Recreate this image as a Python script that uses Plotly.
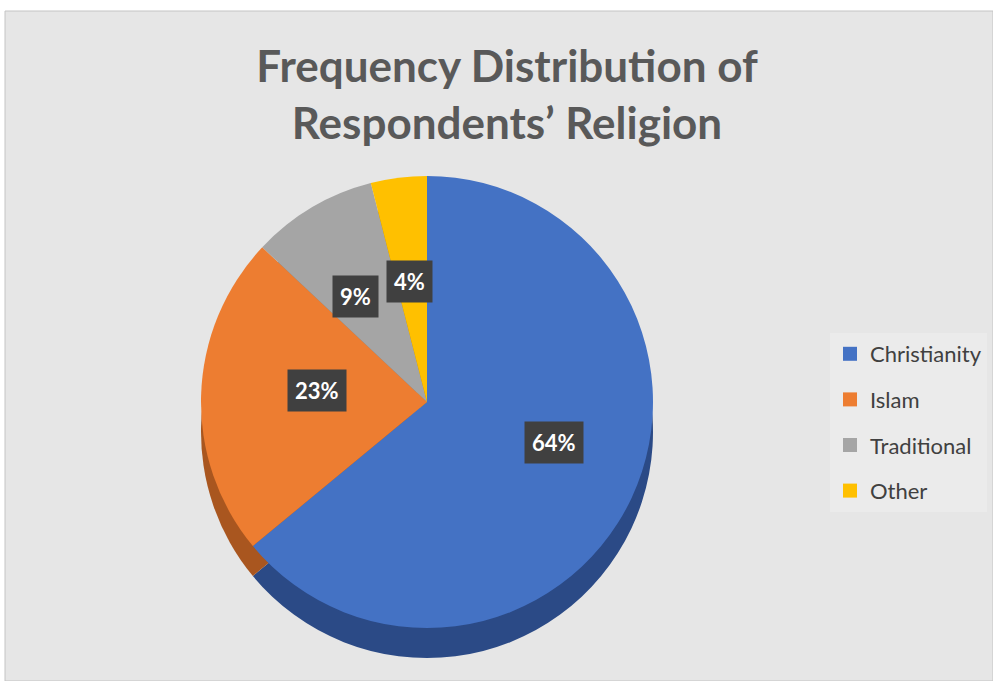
import math
import plotly.graph_objects as go

categories = ["Christianity", "Islam", "Traditional", "Other"]
values = [64, 23, 9, 4]
colors = ["#4472C4", "#ED7D31", "#A5A5A5", "#FFC000"]
side_colors = ["#2b4a86", "#a9561f", "#7a7a7a", "#b88a00"]

W, H = 993, 681
cx, cy, r = 427, 402, 226  # pie centre/radius in pixels
depth = 30

def dom(cx_, cy_):
    return dict(x=[(cx_ - r) / W, (cx_ + r) / W],
                y=[(H - cy_ - r) / H, (H - cy_ + r) / H])

fig = go.Figure()

# side (depth) layer
fig.add_trace(go.Pie(
    labels=categories, values=values, sort=False, direction="clockwise", rotation=0,
    marker=dict(colors=side_colors, line=dict(width=0)), textinfo="none",
    hoverinfo="skip", showlegend=False, domain=dom(cx, cy + depth)))

# top face
fig.add_trace(go.Pie(
    labels=categories, values=values, sort=False, direction="clockwise", rotation=0,
    marker=dict(colors=colors, line=dict(width=0)), textinfo="none",
    showlegend=False, domain=dom(cx, cy)))

# legend entries
for i, (c, col) in enumerate(zip(categories, colors)):
    fig.add_trace(go.Scatter(x=[None], y=[None], mode="markers", name=c,
                             legendgroup=c,
                             marker=dict(symbol="square", size=14, color=col)))

# data labels
total = sum(values)
cum = 0
anns = []
for v in values:
    mid = (cum + v / 2) / total * 2 * math.pi
    cum += v
    px = cx + 0.62 * r * math.sin(mid)
    py = (cy - 8) - 0.5 * r * math.cos(mid)
    anns.append(dict(x=px / W, y=1 - py / H, xref="paper", yref="paper",
                     text=f"<b>{round(v / total * 100)}%</b>", showarrow=False,
                     font=dict(family="Lato, Open Sans, sans-serif", size=22, color="white"),
                     bgcolor="#404040", borderpad=7))

fig.update_layout(
    width=W, height=H,
    margin=dict(l=0, r=0, t=0, b=0),
    paper_bgcolor="white", plot_bgcolor="rgba(0,0,0,0)",
    title=dict(text="<b>Frequency Distribution of<br>Respondents’ Religion</b>",
               x=507 / W, xanchor="center", y=1 - 82 / H, yanchor="middle",
               font=dict(family="Lato, Open Sans, sans-serif", size=44, color="#595959")),
    xaxis=dict(visible=False), yaxis=dict(visible=False),
    legend=dict(x=830 / W, y=1 - 333 / H, xanchor="left", yanchor="top",
                bgcolor="#ebebeb", tracegroupgap=14,
                font=dict(family="Lato, Open Sans, sans-serif", size=22, color="#404040")),
    shapes=[dict(type="rect", xref="paper", yref="paper", layer="below",
                 x0=5 / W, x1=1, y0=0, y1=1 - 11 / H,
                 fillcolor="#e6e6e6", line=dict(color="#c4c4c4", width=1))],
    annotations=anns,
)

fig.write_html("out.html")
